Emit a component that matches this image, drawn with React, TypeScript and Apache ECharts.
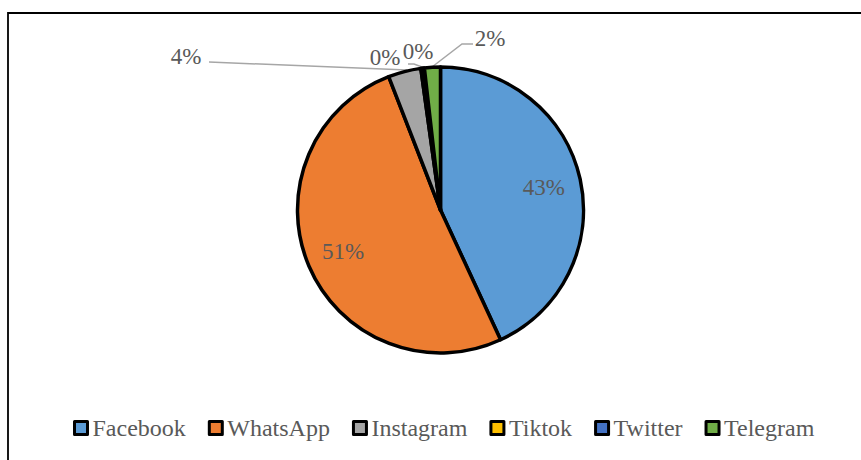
import React, { useEffect, useRef } from "react";
import * as echarts from "echarts";

const categories = ["Facebook", "WhatsApp", "Instagram", "Tiktok", "Twitter", "Telegram"];
const shares = [43.1, 51.0, 3.7, 0.2, 0.2, 1.8];
const colors = ["#5B9BD5", "#ED7D31", "#A5A5A5", "#FFC000", "#4472C4", "#70AD47"];

const FONT = 'Liberation Serif, Times New Roman, serif';
const CX = 440.5;
const CY = 210;
const R = 143;

// outside label placements (label anchor + leader line), index -> spec
const outsideLabels: Record<number, { x: number; y: number; line: number[][] | null }> = {
  2: { x: 186, y: 56, line: [[209, 62], [407, 70]] },
  3: { x: 385, y: 57, line: null },
  4: { x: 418, y: 51, line: [[408, 64], [414, 64], [422, 67]] },
  5: { x: 490, y: 38, line: [[473, 44], [462, 44], [432, 67]] },
};

export default function App() {
  const ref = useRef<HTMLDivElement>(null);
  useEffect(() => {
    if (!ref.current) return;
    const chart = echarts.init(ref.current, undefined, { renderer: "svg" });
    const total = shares.reduce((a, b) => a + b, 0);
    const cum: number[] = [];
    let acc = 0;
    shares.forEach((v) => {
      cum.push(acc + v / 2);
      acc += v;
    });

    chart.setOption({
      animation: false,
      backgroundColor: "#fff",
      textStyle: { fontFamily: FONT },
      graphic: [
        {
          type: "rect",
          shape: { x: 8, y: 13, width: 900, height: 500 },
          style: { fill: "none", stroke: "#000", lineWidth: 1.8 },
          silent: true,
          z: 0,
        },
      ],
      legend: {
        data: categories,
        left: 73,
        top: 416,
        padding: 0,
        icon: "rect",
        itemWidth: 13,
        itemHeight: 13,
        itemGap: 22,
        itemTextGap: 5,
        itemStyle: { borderColor: "#000", borderWidth: 3 },
        textStyle: { fontFamily: FONT, fontSize: 24, color: "#595959" },
      },
      series: [
        {
          type: "pie",
          center: [CX, CY],
          radius: [0, R],
          startAngle: 90,
          clockwise: true,
          avoidLabelOverlap: false,
          itemStyle: { borderColor: "#000", borderWidth: 3.5 },
          label: {
            show: true,
            position: "outside",
            fontFamily: FONT,
            fontSize: 23,
            color: "#595959",
            formatter: (p: any) => Math.round(p.percent) + "%",
          },
          labelLine: {
            show: true,
            lineStyle: { color: "#A6A6A6", width: 1.5 },
          },
          labelLayout: (params: any) => {
            const i = params.dataIndex;
            if (outsideLabels[i]) {
              const s = outsideLabels[i];
              const out: any = { x: s.x, y: s.y, align: "center", verticalAlign: "middle" };
              if (s.line) out.labelLinePoints = s.line;
              return out;
            }
            const ang = (cum[i] / total) * Math.PI * 2;
            const rr = R * 0.74;
            return {
              x: CX + rr * Math.sin(ang),
              y: CY - rr * Math.cos(ang),
              align: "center",
              verticalAlign: "middle",
            };
          },
          data: categories.map((name, i) => ({
            name,
            value: shares[i],
            itemStyle: { color: colors[i] },
            labelLine: { show: !!(outsideLabels[i] && outsideLabels[i].line) },
          })),
        },
      ],
    });
    return () => chart.dispose();
  }, []);
  return (
    <div
      ref={ref}
      style={{ position: "fixed", left: 0, top: 0, width: 861, height: 460 }}
    />
  );
}
